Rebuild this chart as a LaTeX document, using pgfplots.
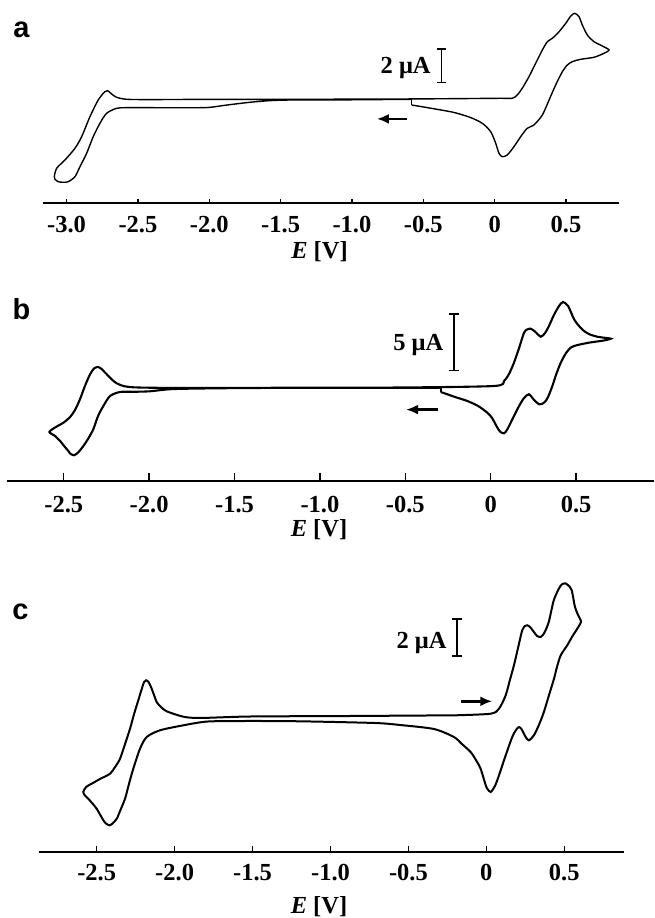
\documentclass[border=0pt]{standalone}
\usepackage{fontspec}
\setmainfont{Liberation Serif}
\newfontfamily\lettersf{Liberation Sans}
\usepackage{pgfplots}
\pgfplotsset{compat=1.18}
\usetikzlibrary{arrows.meta}

\newcommand{\bigfont}{\bfseries\fontsize{24.5}{27}\selectfont}

\pgfplotsset{cv/.style={
  scale only axis, clip=false,
  axis x line=bottom, axis y line=none,
  x axis line style={-},
  axis line style={line width=1.6pt},
  tick align=inside,
  xtick pos=bottom,
  major tick style={line width=1.4pt, black},
  xticklabel style={font=\bigfont, anchor=center, inner sep=0pt},
  ytick=\empty,
}}

\begin{document}
\begin{tikzpicture}[x=1pt,y=1pt]
\useasboundingbox (0,0) rectangle (654,918);

% ---------------- panel a ----------------
\begin{axis}[cv, at={(42.7pt,714.7pt)}, anchor=south west,
  width=576.3pt, height=203.3pt,
  xmin=-3.167, xmax=0.871, ymin=-5.943, ymax=5.674,
  xtick={-3,-2.5,-2,-1.5,-1,-0.5,0,0.5},
  xticklabels={\textbf{-3.0},\textbf{-2.5},\textbf{-2.0},\textbf{-1.5},\textbf{-1.0},\textbf{-0.5},\textbf{0},\textbf{0.5}},
  major tick length=4pt,
  xticklabel style={yshift=-21pt}]
\addplot[black, line width=1.4pt, smooth, tension=0.45] coordinates {
(-0.582,0) (-1.014,-0.03) (-1.420,-0.04) (-1.568,-0.074) (-1.715,-0.171) (-1.890,-0.343)
(-2.009,-0.469) (-2.205,-0.486) (-2.415,-0.48) (-2.579,-0.48) (-2.649,-0.514) (-2.719,-0.8)
(-2.766,-1.371) (-2.813,-2.137) (-2.859,-3.086) (-2.906,-3.851) (-2.941,-4.423) (-2.988,-4.709)
(-3.023,-4.743) (-3.058,-4.709) (-3.081,-4.571) (-3.086,-4.423) (-3.069,-3.943) (-3.011,-3.469)
(-2.941,-2.8) (-2.894,-2.137) (-2.836,-0.994) (-2.778,-0.04) (-2.732,0.434) (-2.712,0.491)
(-2.684,0.303) (-2.649,0.114) (-2.579,0) (-2.415,-0.017) (-2.065,-0.006) (-1.364,0)
(-0.664,0.017) (-0.313,0.034) (0.037,0.057) (0.123,0.057) (0.158,0.246) (0.193,0.629)
(0.240,1.291) (0.287,2.057) (0.334,2.817) (0.369,3.291) (0.404,3.486) (0.451,3.863)
(0.498,4.343) (0.533,4.76) (0.561,4.914) (0.591,4.72) (0.614,4.246) (0.649,3.674)
(0.696,3.291) (0.754,3.046) (0.801,2.817) (0.766,2.629) (0.696,2.4) (0.603,2.286)
(0.544,2.149) (0.509,1.96) (0.474,1.577) (0.427,0.817) (0.381,-0.04) (0.334,-0.897)
(0.275,-1.469) (0.228,-1.657) (0.182,-2.137) (0.135,-2.709) (0.088,-3.183) (0.053,-3.28)
(0.030,-3.086) (0.007,-2.514) (-0.028,-1.851) (-0.087,-1.371) (-0.168,-1.046) (-0.285,-0.754)
(-0.425,-0.543) (-0.582,-0.326)
};
\addplot[black, line width=1.4pt] coordinates {(-0.582,-0.326) (-0.582,0)};
\draw[line width=1.3pt, {Bar[width=9pt]}-{Bar[width=9pt]}] (axis cs:-0.374,0.914) -- (axis cs:-0.374,2.914);
\node[anchor=base east, inner sep=0pt, font=\bigfont] at ([xshift=-10.5pt]axis cs:-0.374,1.486) {2 μA};
\draw[line width=2.6pt, -{Latex[length=12pt,width=10pt]}] (axis cs:-0.615,-1.12) -- (axis cs:-0.825,-1.12);
\end{axis}

% ---------------- panel b ----------------
\begin{axis}[cv, at={(6.7pt,437pt)}, anchor=south west,
  width=647.3pt, height=191pt,
  xmin=-2.834, xmax=0.956, ymin=-8.092, ymax=8.474,
  xtick={-2.5,-2,-1.5,-1,-0.5,0,0.5},
  xticklabels={\textbf{-2.5},\textbf{-2.0},\textbf{-1.5},\textbf{-1.0},\textbf{-0.5},\textbf{0},\textbf{0.5}},
  major tick length=8pt,
  xticklabel style={yshift=-23.5pt}]
\addplot[black, line width=2.1pt, smooth, tension=0.45] coordinates {
(-0.293,0) (-0.824,-0.017) (-1.409,-0.026) (-1.848,-0.113) (-1.995,-0.312) (-2.093,-0.356)
(-2.171,-0.373) (-2.229,-0.72) (-2.268,-1.587) (-2.299,-2.455) (-2.327,-3.608) (-2.358,-4.449)
(-2.385,-5.056) (-2.416,-5.62) (-2.440,-5.863) (-2.463,-5.707) (-2.473,-5.49) (-2.498,-5.056)
(-2.521,-4.623) (-2.551,-4.189) (-2.584,-3.842) (-2.551,-3.452) (-2.502,-3.036) (-2.463,-2.541)
(-2.434,-1.934) (-2.405,-1.006) (-2.376,0.147) (-2.346,1.162) (-2.323,1.665) (-2.301,1.795)
(-2.282,1.665) (-2.248,1.162) (-2.190,0.382) (-2.093,0.035) (-1.702,-0.026) (-1.117,0)
(-0.531,0.017) (0.019,0.147) (0.078,0.581) (0.107,1.188) (0.136,2.168) (0.166,3.443)
(0.195,4.77) (0.213,5.048) (0.234,5.117) (0.259,4.874) (0.293,4.423) (0.318,4.744)
(0.341,5.351) (0.370,6.305) (0.400,7.086) (0.423,7.433) (0.453,7.086) (0.488,5.932)
(0.517,5.351) (0.546,4.918) (0.581,4.614) (0.624,4.423) (0.663,4.337) (0.703,4.25)
(0.663,4.094) (0.644,4.05) (0.581,3.92) (0.527,3.764) (0.488,3.617) (0.468,3.469)
(0.441,3.01) (0.410,2.168) (0.382,1.101) (0.361,0.147) (0.338,-0.72) (0.322,-1.154)
(0.300,-1.414) (0.283,-1.44) (0.254,-1.067) (0.224,-0.572) (0.195,-0.893) (0.166,-1.587)
(0.136,-2.455) (0.117,-3.036) (0.095,-3.669) (0.078,-3.955) (0.057,-3.842) (0.039,-3.469)
(0.008,-2.628) (-0.020,-2.168) (-0.074,-1.587) (-0.137,-1.153) (-0.209,-0.807) (-0.254,-0.572)
(-0.293,-0.373)
};
\addplot[black, line width=2.1pt] coordinates {(-0.293,-0.373) (-0.293,0)};
\draw[line width=1.5pt, {Bar[width=10pt]}-{Bar[width=10pt]}] (axis cs:-0.215,1.448) -- (axis cs:-0.215,6.453);
\node[anchor=base east, inner sep=0pt, font=\bigfont] at ([xshift=-10.5pt]axis cs:-0.215,3.2) {5 μA};
\draw[line width=2.6pt, -{Latex[length=12pt,width=10pt]}] (axis cs:-0.311,-1.9) -- (axis cs:-0.496,-1.9);
\end{axis}

% ---------------- panel c ----------------
\begin{axis}[cv, at={(39pt,66pt)}, anchor=south west,
  width=585pt, height=277pt,
  xmin=-2.870, xmax=0.883, ymin=-7.01, ymax=7.195,
  xtick={-2.5,-2,-1.5,-1,-0.5,0,0.5},
  xticklabels={\textbf{-2.5},\textbf{-2.0},\textbf{-1.5},\textbf{-1.0},\textbf{-0.5},\textbf{0},\textbf{0.5}},
  major tick length=6.5pt,
  axis line style={line width=1.9pt},
  xticklabel style={yshift=-20.5pt}]
\addplot[black, line width=2pt, smooth, tension=0.45] coordinates {
(-0.195,0) (0.028,0.082) (0.081,0.338) (0.124,1.026) (0.151,1.81) (0.177,2.564)
(0.203,3.451) (0.230,4.359) (0.248,4.579) (0.262,4.615) (0.280,4.528) (0.305,4.272)
(0.325,4.067) (0.348,4.015) (0.363,4.118) (0.380,4.359) (0.402,4.836) (0.433,5.913)
(0.472,6.595) (0.491,6.744) (0.507,6.769) (0.523,6.682) (0.547,6.426) (0.568,5.569)
(0.588,5.144) (0.607,4.8) (0.583,4.441) (0.549,4.015) (0.519,3.59) (0.477,3.077)
(0.453,2.477) (0.434,1.877) (0.402,1.041) (0.369,0.169) (0.337,-0.497) (0.305,-1.026)
(0.273,-1.282) (0.254,-1.138) (0.241,-0.944) (0.225,-0.703) (0.209,-0.6) (0.190,-0.754)
(0.166,-1.113) (0.124,-2.051) (0.081,-3.077) (0.055,-3.626) (0.028,-3.933) (0.007,-3.779)
(-0.004,-3.59) (-0.037,-2.738) (-0.067,-2.292) (-0.101,-1.882) (-0.157,-1.472) (-0.208,-1.113)
(-0.336,-0.703) (-0.554,-0.497) (-0.715,-0.395) (-1.196,-0.308) (-1.516,-0.292) (-1.786,-0.318)
(-1.944,-0.513) (-2.094,-0.769) (-2.179,-1.113) (-2.222,-1.713) (-2.265,-2.738) (-2.293,-3.523)
(-2.318,-4.277) (-2.350,-4.908) (-2.371,-5.303) (-2.398,-5.549) (-2.419,-5.641) (-2.440,-5.549)
(-2.457,-5.385) (-2.500,-4.79) (-2.530,-4.497) (-2.554,-4.277) (-2.575,-4.113) (-2.586,-3.933)
(-2.568,-3.677) (-2.532,-3.508) (-2.479,-3.267) (-2.414,-2.995) (-2.382,-2.651) (-2.350,-2.226)
(-2.318,-1.472) (-2.286,-0.687) (-2.260,0.067) (-2.233,0.769) (-2.209,1.4) (-2.196,1.708)
(-2.183,1.795) (-2.167,1.708) (-2.147,1.364) (-2.115,0.682) (-2.087,0.426) (-2.051,0.205)
(-1.944,-0.072) (-1.837,-0.138) (-1.516,-0.062) (-0.875,-0.036) (-0.195,0)
};
\draw[line width=1.9pt, {Bar[width=10pt]}-{Bar[width=10pt]}] (axis cs:-0.187,2.99) -- (axis cs:-0.187,4.99);
\node[anchor=base east, inner sep=0pt, font=\bigfont] at ([xshift=-10.5pt]axis cs:-0.187,3.45) {2 μA};
\draw[line width=2.6pt, -{Latex[length=12pt,width=10pt]}] (axis cs:-0.165,0.718) -- (axis cs:0.038,0.718);
\end{axis}

% ---------------- labels ----------------
\node[font=\lettersf\bfseries\fontsize{29}{30}\selectfont, inner sep=0pt] at (21.5,888.5) {a};
\node[font=\lettersf\bfseries\fontsize{29}{30}\selectfont, inner sep=0pt] at (21.5,608.5) {b};
\node[font=\lettersf\bfseries\fontsize{29}{30}\selectfont, inner sep=0pt] at (20.5,306) {c};
\node[font=\bigfont, inner sep=0pt] at (319.5,666.5) {\textit{E} [V]};
\node[font=\bigfont, inner sep=0pt] at (319,388) {\textit{E} [V]};
\node[font=\bigfont, inner sep=0pt, anchor=south] at (319,1.5) {\textit{E} [V]};
\end{tikzpicture}
\end{document}
